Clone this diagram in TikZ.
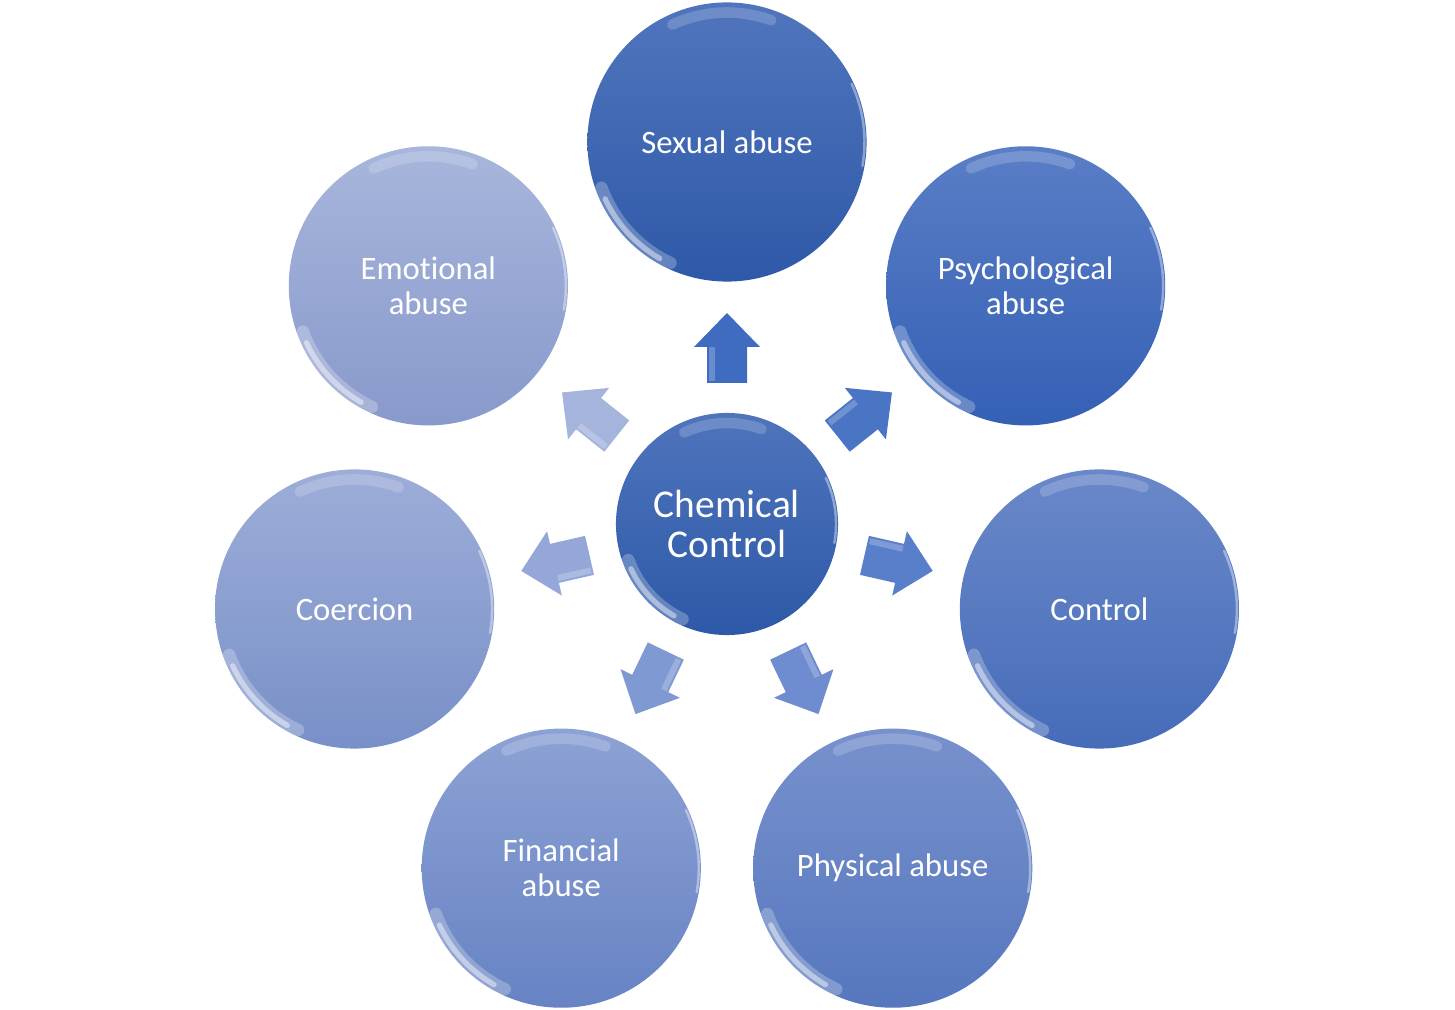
\documentclass[tikz,border=0pt]{standalone}
\usepackage{fontspec}
\setmainfont{Carlito}[Ligatures=NoCommon]
\usetikzlibrary{calc}

% circle colours, top and bottom of each shade (0 = hub)
\definecolor{top0}{HTML}{4F74BC}
\definecolor{bot0}{HTML}{2D59A8}
\definecolor{top1}{HTML}{5075BD}
\definecolor{bot1}{HTML}{2E59A8}
\definecolor{top2}{HTML}{5A7EC6}
\definecolor{bot2}{HTML}{3460B5}
\definecolor{top3}{HTML}{6A88C9}
\definecolor{bot3}{HTML}{466CB9}
\definecolor{top4}{HTML}{7891CD}
\definecolor{bot4}{HTML}{5677BE}
\definecolor{top5}{HTML}{8DA2D4}
\definecolor{bot5}{HTML}{6783C4}
\definecolor{top6}{HTML}{9DADD8}
\definecolor{bot6}{HTML}{7890C8}
\definecolor{top7}{HTML}{A8B6DC}
\definecolor{bot7}{HTML}{8899CB}
% block arrow colours
\definecolor{arr1}{HTML}{3F6CC0}
\definecolor{arr2}{HTML}{4A74C4}
\definecolor{arr3}{HTML}{5A7FCA}
\definecolor{arr4}{HTML}{6E8CCF}
\definecolor{arr5}{HTML}{7F99D2}
\definecolor{arr6}{HTML}{94A7D8}
\definecolor{arr7}{HTML}{A5B4DD}

\begin{document}
\begin{tikzpicture}[x=0.01cm,y=0.01cm,
  bubble/.style={circle,shade,minimum size=2.79cm,inner sep=0pt,text=white,
    align=center,font=\fontsize{9.3}{10}\selectfont},
  hubble/.style={bubble,minimum size=2.22cm,font=\fontsize{11.2}{11.6}\selectfont},
  gloss/.style={white,line cap=round}]
  \useasboundingbox (-727,-485) rectangle (728,524);

  \node[hubble,top color=top0,bottom color=bot0] (hub) at (0,0) {Chemical\\Control};
  \foreach \i/\txt in {1/Sexual abuse,2/Psychological\\abuse,3/Control,
      4/Physical abuse,5/Financial\\abuse,6/Coercion,7/Emotional\\abuse}{
    \pgfmathsetmacro\ang{90-(\i-1)*360/7}
    \node[bubble,top color=top\i,bottom color=bot\i] (b\i) at (\ang:382) {\txt};
    % block arrow from hub towards the bubble
    \fill[arr\i,rotate=\ang] (141,-20) -- (177,-20) -- (177,-33) -- (211,0)
      -- (177,33) -- (177,20) -- (141,20) -- cycle;
    \fill[white,opacity=.22,rotate=\ang] (143,12) -- (177,12) -- (177,18) -- (143,18) -- cycle;
  }

  % glossy rims
  \foreach \n/\r in {hub/111,b1/139.5,b2/139.5,b3/139.5,b4/139.5,b5/139.5,b6/139.5,b7/139.5}{
    \draw[gloss,opacity=.25,line width=3.5pt]
      ($(\n.center)+(200:\r-6)$) arc[start angle=200,end angle=245,radius=\r-6];
    \draw[gloss,opacity=.45,line width=1.5pt]
      ($(\n.center)+(205:\r-5)$) arc[start angle=205,end angle=240,radius=\r-5];
    \draw[gloss,opacity=.18,line width=3pt]
      ($(\n.center)+(70:\r-10)$) arc[start angle=70,end angle=115,radius=\r-10];
    \draw[gloss,opacity=.4,line width=.7pt]
      ($(\n.center)+(-10:\r-2)$) arc[start angle=-10,end angle=25,radius=\r-2];
  }
\end{tikzpicture}
\end{document}
